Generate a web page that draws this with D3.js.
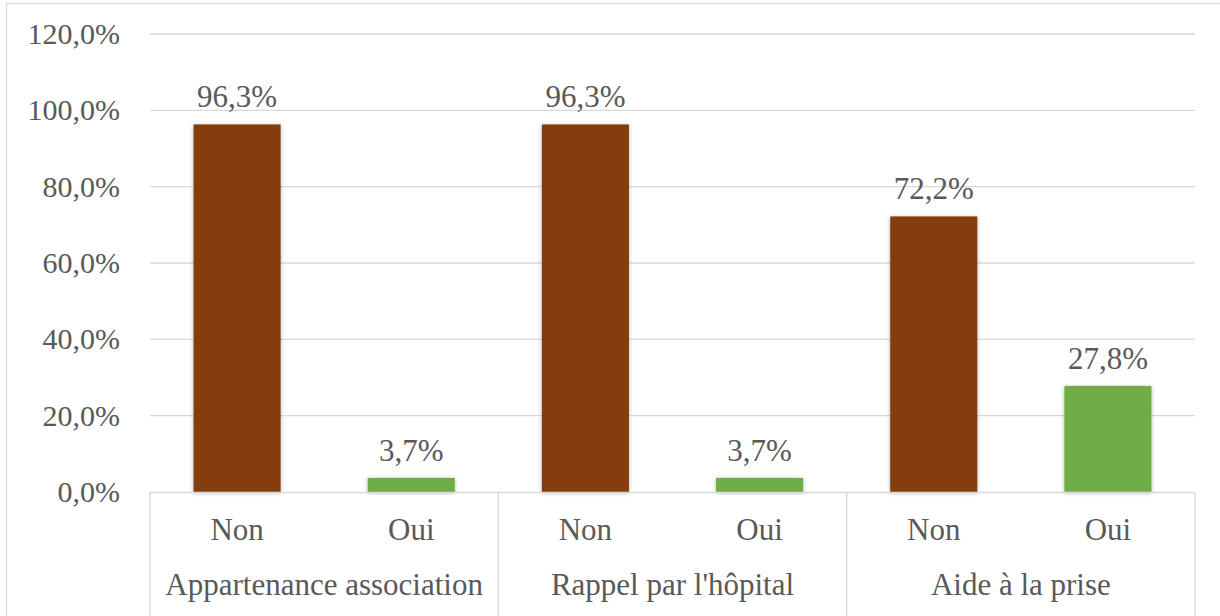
<!DOCTYPE html>
<html><head><meta charset="utf-8">
<script src="https://cdn.jsdelivr.net/npm/d3@7"></script>
<style>body{margin:0;background:#fff}svg{display:block}</style>
</head><body>
<svg id="c" width="1220" height="616"></svg>
<script>
const groups = ["Appartenance association", "Rappel par l'hôpital", "Aide à la prise"];
const answers = ["Non", "Oui"];
const nonValues = [96.3, 96.3, 72.2];
const ouiValues = [3.7, 3.7, 27.8];
const yTicks = [0, 20, 40, 60, 80, 100, 120];
const colors = {Non: "#843C0C", Oui: "#70AD47"};

(function () {
const svg = d3.select("#c");
const W = 1220, H = 616;
const pLeft = 150, pRight = 1195, pTop = 34, pBottom = 492;
const textColor = "#595959", gridColor = "#d9d9d9";
const font = "'Liberation Serif','Times New Roman',serif";

// outer chart border
svg.append("rect").attr("x", 6.5).attr("y", 3.5).attr("width", 1400).attr("height", 800)
  .attr("fill", "none").attr("stroke", gridColor).attr("stroke-width", 1.3);

const defs = svg.append("defs");
const f = defs.append("filter").attr("id", "sh").attr("x", "-20%").attr("y", "-20%").attr("width", "140%").attr("height", "140%");
f.append("feDropShadow").attr("dx", 0).attr("dy", 1).attr("stdDeviation", 2.2)
  .attr("flood-color", "#000").attr("flood-opacity", 0.3);

const y = d3.scaleLinear().domain([0, 120]).range([pBottom, pTop]);
const x0 = d3.scaleBand().domain(groups).range([pLeft, pRight]).padding(0);
const x1 = d3.scaleBand().domain(answers).range([0, x0.bandwidth()]).paddingInner(0.5).paddingOuter(0.25);

// gridlines
svg.append("g").selectAll("line").data(yTicks.filter(d => d > 0)).join("line")
  .attr("x1", pLeft).attr("x2", pRight).attr("y1", d => y(d)).attr("y2", d => y(d))
  .attr("stroke", gridColor).attr("stroke-width", 1.3);

// y axis labels
const yAxis = d3.axisLeft(y).tickValues(yTicks).tickSize(0).tickPadding(0)
  .tickFormat(d => d.toFixed(1).replace(".", ",") + "%");
const ya = svg.append("g").attr("transform", `translate(${pLeft - 30},0)`).call(yAxis);
ya.select(".domain").remove();
ya.selectAll("text").attr("font-family", font).attr("font-size", 30).attr("fill", textColor)
  .attr("dy", "0.32em").attr("x", 0);

// data
const rows = [];
groups.forEach((g, i) => {
  rows.push({g, a: "Non", v: nonValues[i]});
  rows.push({g, a: "Oui", v: ouiValues[i]});
});

svg.append("g").selectAll("rect").data(rows).join("rect")
  .attr("x", d => x0(d.g) + x1(d.a)).attr("width", x1.bandwidth())
  .attr("y", d => y(d.v)).attr("height", d => y(0) - y(d.v))
  .attr("fill", d => colors[d.a]).attr("filter", "url(#sh)");

svg.append("g").selectAll("text").data(rows).join("text")
  .attr("x", d => x0(d.g) + x1(d.a) + x1.bandwidth() / 2)
  .attr("y", d => y(d.v) - 17)
  .attr("text-anchor", "middle").attr("font-family", font).attr("font-size", 31).attr("fill", textColor)
  .text(d => d.v.toFixed(1).replace(".", ",") + "%");

// category axis
svg.append("line").attr("x1", pLeft).attr("x2", pRight).attr("y1", pBottom + 0.5).attr("y2", pBottom + 0.5)
  .attr("stroke", gridColor).attr("stroke-width", 1.3);
const seps = groups.map(g => x0(g)).concat([x0(groups[groups.length - 1]) + x0.bandwidth()]);
svg.append("g").selectAll("line").data(seps).join("line")
  .attr("x1", d => d).attr("x2", d => d).attr("y1", pBottom).attr("y2", H)
  .attr("stroke", gridColor).attr("stroke-width", 1.3);

svg.append("g").selectAll("text").data(rows).join("text")
  .attr("x", d => x0(d.g) + x1(d.a) + x1.bandwidth() / 2).attr("y", 540)
  .attr("text-anchor", "middle").attr("font-family", font).attr("font-size", 31).attr("fill", textColor)
  .text(d => d.a);

svg.append("g").selectAll("text").data(groups).join("text")
  .attr("x", d => x0(d) + x0.bandwidth() / 2).attr("y", 595)
  .attr("text-anchor", "middle").attr("font-family", font).attr("font-size", 31).attr("fill", textColor)
  .text(d => d);
})();
</script>
</body></html>
